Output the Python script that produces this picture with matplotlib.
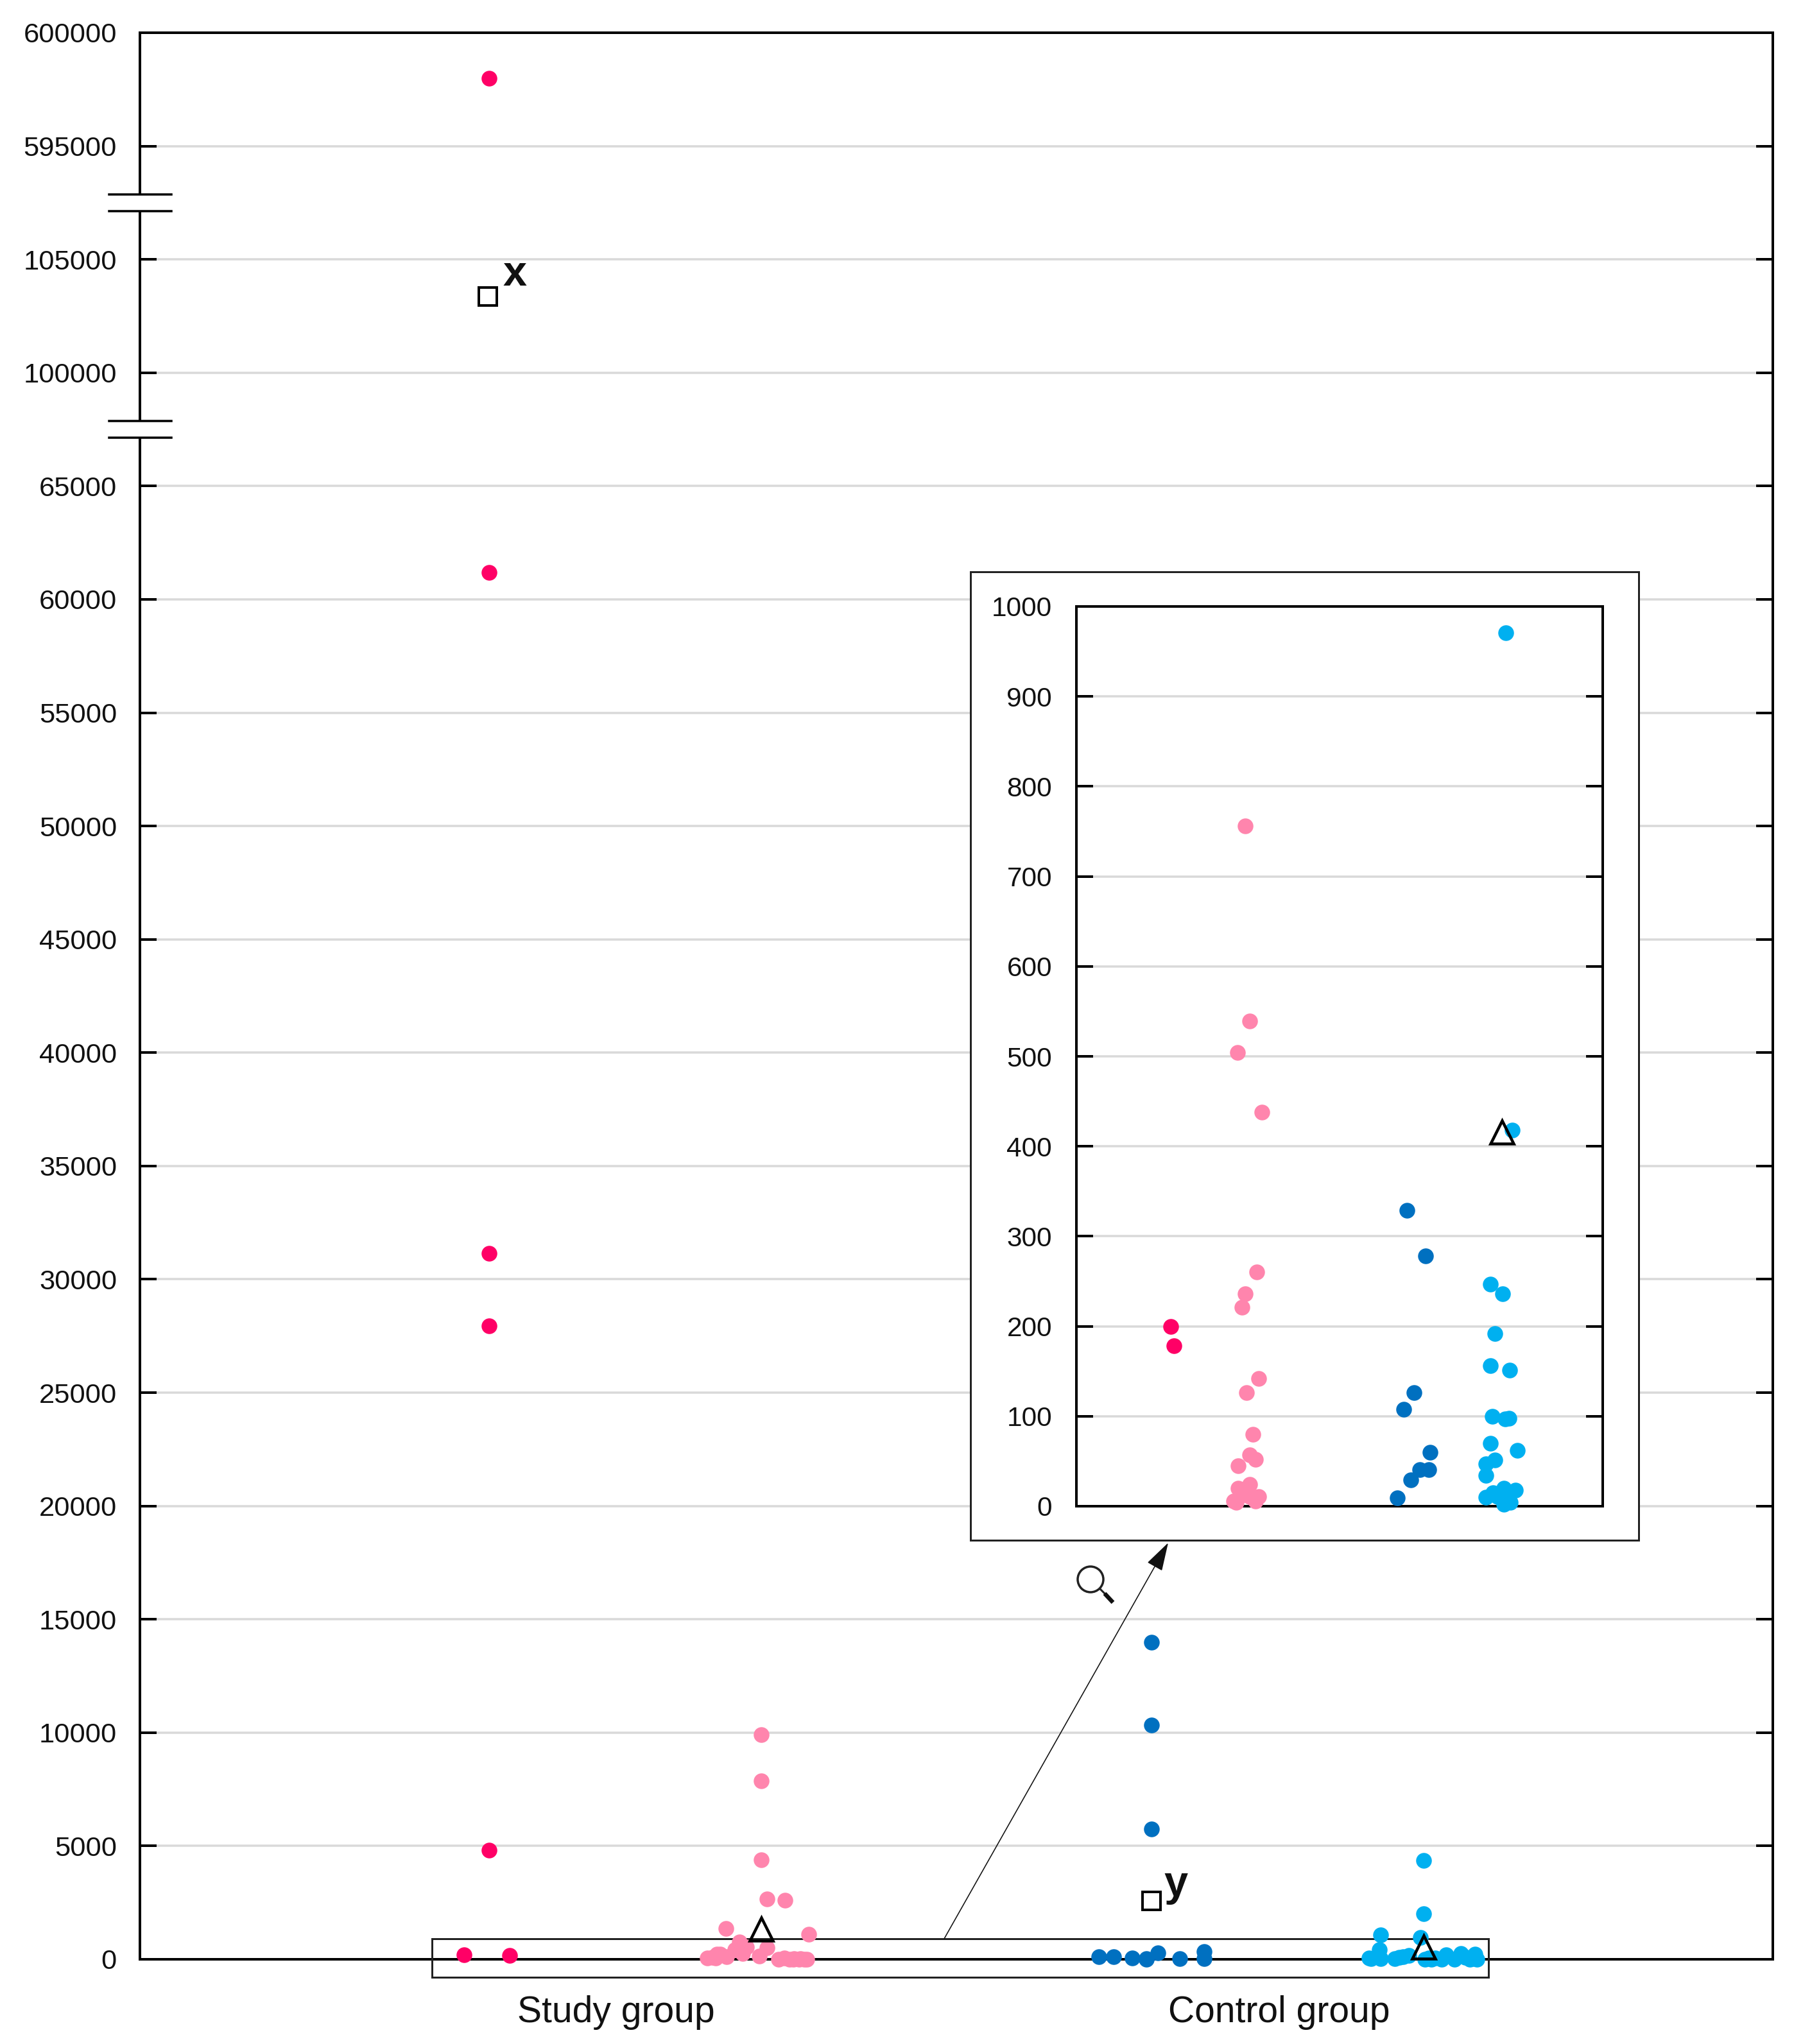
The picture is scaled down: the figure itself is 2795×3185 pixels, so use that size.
import numpy as np
from matplotlib import pyplot as plt
from matplotlib.patches import Rectangle, Circle

plt.rcParams['font.family'] = ['Liberation Sans', 'DejaVu Sans']

# broken y axis: every tick is one equal step on the page
scale_values = [-5000, 0, 65000, 100000, 105000, 595000, 600000]
scale_steps = [-1, 0, 13, 14, 15, 16, 17]
main_ticks = list(range(0, 65001, 5000)) + [100000, 105000, 595000, 600000]
inset_ticks = list(range(0, 1001, 100))
group_labels = ['Study group', 'Control group']

# values below 1000, shared by the main plot and the zoomed panel
dark_pink_low = [200, 178]
light_pink_low = [756, 539, 504, 438, 260, 236, 221, 142, 126, 80, 57, 52, 45, 24, 20, 13, 11, 11, 6, 6, 4]
dark_blue_low = [329, 278, 126, 108, 60, 41, 41, 29, 9.5]
light_blue_low = [971, 418, 247, 236, 192, 156, 151, 100, 98, 97, 70, 62, 51, 47, 34, 20, 18, 15, 11, 11, 11, 10, 4, 2]

# values above that, only in the main plot
dark_pink_high = [598000, 61200, 31150, 27950, 4800]
light_pink_high = [9900, 7870, 4400, 2660, 2610, 1360, 1100]
dark_blue_high = [14000, 10330, 5750]
light_blue_high = [4360, 2000, 1080]

# horizontal jitter of the dots
dark_pink_x_high = [0, 0, 0, 0, 0]
dark_pink_x_low = [-39, 32]
light_pink_x_high = [0, 0, 0, 9, 37, -55, 74]
light_pink_x_low = [-34, -23, 9, -41, -29, -64, -69, -3, -54, -76, -84, -71, 36, 51, 61, 67, 59, 44, 71, 27, 50]
dark_blue_x_high = [0, 0, 0]
dark_blue_x_low = [82, 10, -59, -82, -30, 44, -8, 82, -8]
light_blue_x_high = [0, 0, -67]
light_blue_x_low = [-5, -69, 58, 80, 35, -23, 62, -32, 65, -38, 8, 18, 78, -85, -82, -67, 75, -45, 2, 12, 72, 83, 28, 48]

inset_dark_pink_x = [0, 5]
inset_light_pink_x = [-2, 5, -14, 24, 16, -2, -7, 19, 0, 10, 5, 14, -13, 5, -13, -4, 19, 5, 14, -20, -16]
inset_dark_blue_x = [-20, 9, -9, -25, 16, 0, 14, -14, -35]
inset_light_blue_x = [4, 14, -20, -1, -13, -20, 10, -17, 9, 3, -20, 22, -13, -27, -27, 1, 19, -16, -9, 0, 7, -27, 11, 1]

# squares and triangles
square_values = [103370, 2570]
triangle_values = [1320, 546]
inset_triangle_value = 416

DARK_PINK = '#FF0066'
LIGHT_PINK = '#FF85AD'
DARK_BLUE = '#0070C0'
LIGHT_BLUE = '#00B0F0'
GRID = '#D9D9D9'

W, H = 2795, 3185
PX = 0.72  # points per pixel at dpi 100


def forward(v):
    return np.interp(v, scale_values, scale_steps)


def inverse(p):
    return np.interp(p, scale_steps, scale_values)


def add_axes_px(left, top, right, bottom, **kw):
    return fig.add_axes([left / W, 1 - bottom / H, (right - left) / W, (bottom - top) / H], **kw)


def style_axes(ax, ticks, size, pad):
    ax.set_yticks(ticks)
    ax.set_yticklabels([str(t) for t in ticks], fontsize=size)
    ax.tick_params(axis='y', direction='in', length=26 * PX, width=4 * PX, left=True, right=True,
                   pad=pad * PX, color='black', labelcolor='#111111')
    ax.grid(True, axis='y', color=GRID, linewidth=3.5 * PX, zorder=0)
    ax.set_axisbelow(True)
    for s in ax.spines.values():
        s.set_linewidth(4 * PX)
        s.set_zorder(2.5)


def dots(ax, x, y, color):
    ax.plot(x, y, 'o', ms=24.5 * PX, mew=0, color=color, clip_on=False, zorder=5, linestyle='none')


def triangle(ax, x, y):
    ax.plot([x], [y], '^', ms=36 * PX, mfc='none', mec='black', mew=4.5 * PX, clip_on=False, zorder=6)


fig = plt.figure(figsize=(W / 100, H / 100), dpi=100)

# main plot
ax = add_axes_px(218, 51, 2762, 3053, zorder=1)
ax.set_yscale('function', functions=(forward, inverse))
ax.set_ylim(0, 600000)
ax.set_xlim(0, 2544)
style_axes(ax, main_ticks, 31.3, 36)
ax.set_xticks([742, 1775])
ax.set_xticklabels(group_labels, fontsize=41, color='#111111')
ax.tick_params(axis='x', length=0, pad=56 * PX)

centres = [544, 968, 1576, 2000]
series = [
    (dark_pink_x_high + dark_pink_x_low, dark_pink_high + dark_pink_low, DARK_PINK),
    (light_pink_x_high + light_pink_x_low, light_pink_high + light_pink_low, LIGHT_PINK),
    (dark_blue_x_high + dark_blue_x_low, dark_blue_high + dark_blue_low, DARK_BLUE),
    (light_blue_x_high + light_blue_x_low, light_blue_high + light_blue_low, LIGHT_BLUE),
]
for c, (off, vals, color) in zip(centres, series):
    dots(ax, c + np.array(off), vals, color)

ax.plot([542, 1576], square_values, 's', ms=28 * PX, mfc='white', mec='black', mew=4 * PX,
        linestyle='none', zorder=6, clip_on=False)
triangle(ax, 968, triangle_values[0])
triangle(ax, 2000, triangle_values[1])

# box around the low values
ax.add_patch(Rectangle((455, -793), 1646, 906 + 793, fill=False, ec='#222222', lw=3 * PX,
                       clip_on=False, zorder=3))

# axis breaks
trans = ax.get_yaxis_transform()
for step in [13.5, 15.5]:
    low, high = inverse(step - 0.074), inverse(step + 0.074)
    ax.plot([0, 0], [low, high], color='white', lw=6 * PX, transform=trans, clip_on=False, zorder=4,
            solid_capstyle='butt')
    for v in [low, high]:
        ax.plot([-0.0189, 0.0193], [v, v], color='black', lw=3.5 * PX, transform=trans, clip_on=False, zorder=4)

# overlay in picture pixels for the callout
over = fig.add_axes([0, 0, 1, 1], zorder=2)
over.set_xlim(0, W)
over.set_ylim(H, 0)
over.axis('off')
over.add_patch(Rectangle((1512, 891), 1041, 1509, fc='white', ec='#222222', lw=3 * PX))
over.annotate('', xy=(1820, 2404), xytext=(1471, 3021),
              arrowprops=dict(arrowstyle='-|>,head_length=1.0,head_width=0.3', color='#111111', lw=1.6 * PX,
                              mutation_scale=28, shrinkA=0, shrinkB=0))
over.add_patch(Circle((1699, 2461), 20, fill=False, ec='#222222', lw=3.5 * PX))
over.plot([1713, 1722], [2475, 2484], color='#222222', lw=3 * PX, solid_capstyle='butt')
over.plot([1721, 1734], [2483, 2497], color='#111111', lw=6.5 * PX, solid_capstyle='butt')
over.text(802, 445, 'x', fontsize=48, fontweight='bold', ha='center', va='baseline', color='#111111')
over.text(1832, 2954, 'y', fontsize=48, fontweight='bold', ha='center', va='baseline', color='#111111')

# zoomed panel
inset = add_axes_px(1677, 945, 2497, 2347, zorder=3)
inset.set_ylim(0, 1000)
inset.set_xlim(0, 820)
inset.set_xticks([])
style_axes(inset, inset_ticks, 30.5, 38)

dots(inset, 147 + np.array(inset_dark_pink_x), dark_pink_low, DARK_PINK)
dots(inset, 265 + np.array(inset_light_pink_x), light_pink_low, LIGHT_PINK)
dots(inset, 535 + np.array(inset_dark_blue_x), dark_blue_low, DARK_BLUE)
dots(inset, 665 + np.array(inset_light_blue_x), light_blue_low, LIGHT_BLUE)
triangle(inset, 663, inset_triangle_value)

fig.savefig('out.png', dpi=100)
